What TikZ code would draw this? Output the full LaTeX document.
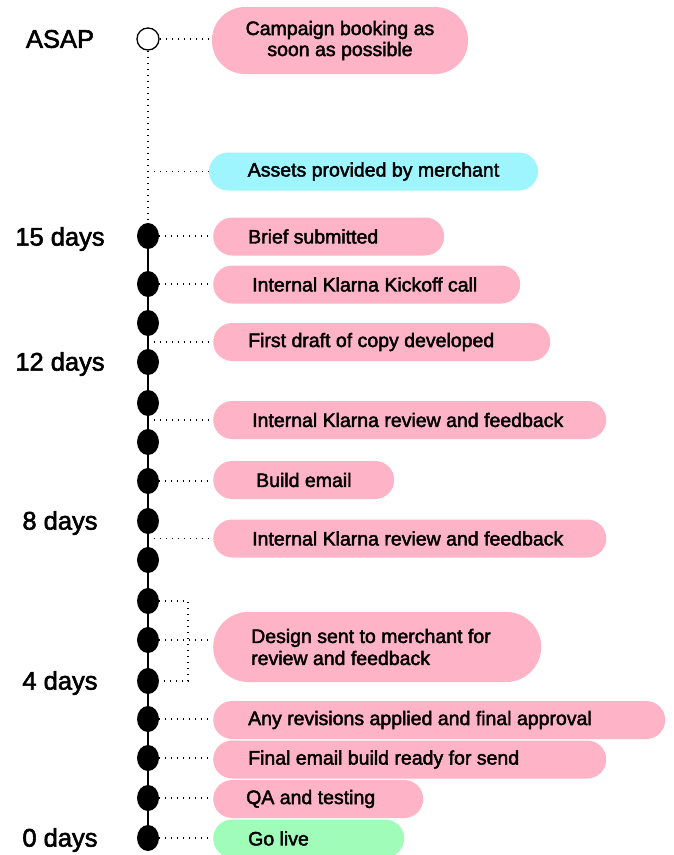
\documentclass[tikz,border=0pt]{standalone}
\usepackage{fontspec}
\setmainfont{Liberation Sans}[BoldFont=Liberation Sans,BoldFeatures={FakeBold=2.2}]
\usetikzlibrary{shapes.geometric}
\definecolor{kpink}{HTML}{FFB3C7}
\definecolor{kcyan}{HTML}{9FF5FE}
\definecolor{kgreen}{HTML}{A0FCB9}
\newcommand\ptxt[2]{\makebox[#1][l]{#2}}
\begin{document}
\begin{tikzpicture}[x=1pt,y=-1pt,
  bigdot/.style={ellipse,fill=black,inner sep=0pt,minimum width=22pt,minimum height=26pt},
  hollow/.style={circle,draw=black,line width=1.3pt,fill=white,inner sep=0pt,minimum size=22pt},
  pill/.style={rounded corners=19pt,fill=kpink,minimum height=38pt,anchor=west,inner ysep=0pt,font=\fontsize{19.5}{22}\selectfont\bfseries},
  lbl/.style={font=\fontsize{25.5}{28}\selectfont\bfseries},
  conn/.style={line width=1.2pt,dash pattern=on 1.2pt off 4.8pt},
  spine/.style={line width=1.3pt}]
\useasboundingbox (0,0) rectangle (673,855);

% timeline points
\node[hollow] (h) at (148,39) {};
\foreach \i/\yy in {1/236,2/284,3/323,4/362,5/403,6/442,7/481,8/521,9/560,10/601,11/640,12/681,13/719,14/758,15/798,16/838}
  \coordinate (c\i) at (148,\yy);
\draw[conn] (h.south) -- (c1);
\draw[spine] (c1) -- (c16);
\foreach \i in {1,...,16}
  \node[bigdot] (d\i) at (c\i) {};

% left labels
\node[lbl] (l0) at (60,39) {ASAP};
\node[lbl] (l1) at (60,239) {15 days};
\node[lbl] (l2) at (60,364) {12 days};
\node[lbl] (l3) at (60,523) {8 days};
\node[lbl] (l4) at (60,683) {4 days};
\node[lbl] (l5) at (60,840) {0 days};

% pills
\node[pill,rounded corners=33pt,minimum width=256pt,minimum height=67pt,anchor=center,align=center,inner xsep=0pt,
      font=\fontsize{19.5}{21}\selectfont\bfseries] (pb) at (340,40.5) {Campaign booking as\\soon as possible};
\node[pill,fill=kcyan,minimum width=329pt,anchor=center,inner xsep=0pt] (pa) at (373.5,171.5) {Assets provided by merchant};
\node[pill,minimum width=231pt,inner xsep=35pt] (p1) at (213,236.5) {\ptxt{161pt}{Brief submitted}};
\node[pill,minimum width=307pt,inner xsep=39pt] (p2) at (213,284.5) {\ptxt{229pt}{Internal Klarna Kickoff call}};
\node[pill,minimum width=337pt,inner xsep=35pt] (p3) at (213,342) {\ptxt{267pt}{First draft of copy developed}};
\node[pill,minimum width=393pt,inner xsep=39pt] (p4) at (213,420) {\ptxt{315pt}{Internal Klarna review and feedback}};
\node[pill,minimum width=181pt,inner xsep=43pt] (p5) at (213,480) {\ptxt{95pt}{Build email}};
\node[pill,minimum width=393pt,inner xsep=39pt] (p6) at (213,538.5) {\ptxt{315pt}{Internal Klarna review and feedback}};
\node[pill,rounded corners=35pt,minimum width=328pt,minimum height=70pt,inner xsep=38pt] (p7) at (213,647)
  {\parbox{252pt}{\fontsize{19.5}{22}\selectfont\bfseries Design sent to merchant for\\review and feedback}};
\node[pill,minimum width=452pt,inner xsep=35pt] (p8) at (213,720) {\ptxt{382pt}{Any revisions applied and final approval}};
\node[pill,minimum width=393pt,inner xsep=35pt] (p9) at (213,759.5) {\ptxt{323pt}{Final email build ready for send}};
\node[pill,minimum width=210pt,inner xsep=33pt] (p10) at (213,799) {\ptxt{144pt}{QA and testing}};
\node[pill,fill=kgreen,minimum width=191pt,inner xsep=35pt] (p11) at (213,838.5) {\ptxt{121pt}{Go live}};

% connectors
\draw[conn] (h.east) -- (h.east -| pb.west);
\draw[conn] (h |- pa.west) -- (pa.west);
\draw[conn] (d1.east) -- (d1.east -| p1.west);
\draw[conn] (d2.east) -- (d2.east -| p2.west);
\draw[conn] (c1 |- p3.west) -- (p3.west);
\draw[conn] (c1 |- p4.west) -- (p4.west);
\draw[conn] (d7.east) -- (d7.east -| p5.west);
\draw[conn] (c1 |- p6.west) -- (p6.west);
\coordinate (brx) at (188,0);
\draw[conn] (d10.east) -| (brx |- d12.east) -- (d12.east);
\draw[conn] (d11.east) -- (d11.east -| p7.west);
\draw[conn] (d13.east) -- (d13.east -| p8.west);
\draw[conn] (d14.east) -- (d14.east -| p9.west);
\draw[conn] (d15.east) -- (d15.east -| p10.west);
\draw[conn] (d16.east) -- (d16.east -| p11.west);
\end{tikzpicture}
\end{document}
